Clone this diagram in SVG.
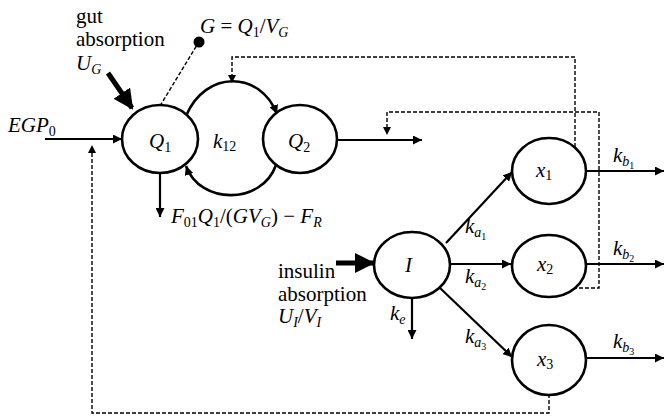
<svg xmlns="http://www.w3.org/2000/svg" width="664" height="417" viewBox="0 0 664 417">
<defs>
<marker id="ahs" viewBox="0 0 10 10" refX="10" refY="5" markerWidth="9" markerHeight="9" markerUnits="userSpaceOnUse" orient="auto"><path d="M0,0 L10,5 L0,10 z" fill="#000"/></marker>
<marker id="ahb" viewBox="0 0 10 10" refX="9" refY="5" markerWidth="4" markerHeight="4" orient="auto"><path d="M0,0 L10,5 L0,10 z" fill="#000"/></marker>
<style>
.node{fill:#fff;stroke:#000;stroke-width:2.6}
.arr{fill:none;stroke:#000;stroke-width:2.2;marker-end:url(#ahs)}
.thick{fill:none;stroke:#000;stroke-width:5;marker-end:url(#ahb)}
.dash{fill:none;stroke:#000;stroke-width:1.4;stroke-dasharray:4,2}
.m{font-family:"Liberation Serif","DejaVu Serif",serif;font-style:italic;font-size:21px;fill:#000}
.t{font-family:"Liberation Serif","DejaVu Serif",serif;font-size:21px;fill:#000}
.s{font-size:14px}
.ss{font-size:10px;font-style:normal}
.up{font-style:normal}
</style>
</defs>
<g id="connectors">
<path d="M186,116 C205,70 260,70 277,114" fill="none" stroke="#000" stroke-width="2.6" marker-end="url(#ahs)"/>
<path d="M276,165 C262,205 200,205 186,166" fill="none" stroke="#000" stroke-width="2.6" marker-end="url(#ahs)"/>
<path class="arr" d="M45,139 L122,139"/>
<path class="arr" d="M160,173 L160,217"/>
<path class="arr" d="M338,140 L422,140"/>
<path class="thick" d="M108,73 L132,108"/>
<path class="thick" d="M336,263 L373,263"/>
<path class="arr" d="M446,243 L512,172"/>
<path class="arr" d="M451,264 L511,264"/>
<path class="arr" d="M440,288 L512,357"/>
<path class="arr" d="M412,298 L412,339"/>
<path class="arr" d="M586,171 L664,171"/>
<path class="arr" d="M586,264 L664,264"/>
<path class="arr" d="M586,358 L664,358"/>
<path class="dash" d="M160,106 L197,45"/>
<circle cx="199" cy="42" r="5.5" fill="#000"/>
<path class="dash" d="M575,147 L575,57 L232,57 L232,76"/>
<path d="M228,75 L236,75 L232,83 z" fill="#000"/>
<path class="dash" d="M573,288 L599,288 L599,112 L387,112 L387,128"/>
<path d="M383,127 L391,127 L387,135 z" fill="#000"/>
<path class="dash" d="M549,394 L549,413 L92,413 L92,152"/>
<path d="M88,153 L96,153 L92,145 z" fill="#000"/>
</g>
<g id="Q1"><ellipse class="node" cx="160" cy="139" rx="38" ry="34"/><text class="m" x="149" y="148">Q<tspan class="s up" dy="4">1</tspan></text></g>
<g id="Q2"><ellipse class="node" cx="300" cy="139" rx="37" ry="34"/><text class="m" x="288" y="148">Q<tspan class="s up" dy="4">2</tspan></text></g>
<g id="I"><ellipse class="node" cx="412" cy="265" rx="38" ry="33"/><text class="m" x="405" y="272">I</text></g>
<g id="x1"><ellipse class="node" cx="549" cy="171" rx="37" ry="33"/><text class="m" x="536" y="177">x<tspan class="s up" dy="3">1</tspan></text></g>
<g id="x2"><ellipse class="node" cx="549" cy="266" rx="37" ry="31"/><text class="m" x="537" y="271">x<tspan class="s up" dy="3">2</tspan></text></g>
<g id="x3"><ellipse class="node" cx="549" cy="360" rx="37" ry="35"/><text class="m" x="537" y="366">x<tspan class="s up" dy="3">3</tspan></text></g>
<g id="labels">
<text class="m" x="213" y="148">k<tspan class="s up" dy="3">12</tspan></text>
<text class="t" x="76" y="23">gut</text>
<text class="t" x="76" y="46">absorption</text>
<text class="m" x="76" y="70">U<tspan class="s" dy="4">G</tspan></text>
<text class="m" x="200" y="33">G <tspan class="up">=</tspan> Q<tspan class="s up" dy="4">1</tspan><tspan dy="-4" class="up">/</tspan>V<tspan class="s" dy="4">G</tspan></text>
<text class="m" x="8" y="132">EGP<tspan class="s up" dy="4">0</tspan></text>
<text class="m" x="171" y="223">F<tspan class="s up" dy="4">01</tspan><tspan dy="-4">Q</tspan><tspan class="s up" dy="4">1</tspan><tspan class="up" dy="-4">/(</tspan>GV<tspan class="s" dy="4">G</tspan><tspan class="up" dy="-4">) − </tspan>F<tspan class="s" dy="4">R</tspan></text>
<text class="t" x="278" y="278">insulin</text>
<text class="t" x="278" y="301">absorption</text>
<text class="m" x="278" y="323">U<tspan class="s" dy="4">I</tspan><tspan class="up" dy="-4">/</tspan>V<tspan class="s" dy="4">I</tspan></text>
<text class="m" x="465" y="233">k<tspan class="s" dy="4">a<tspan class="ss" dy="3">1</tspan></tspan></text>
<text class="m" x="465" y="283">k<tspan class="s" dy="4">a<tspan class="ss" dy="3">2</tspan></tspan></text>
<text class="m" x="465" y="343">k<tspan class="s" dy="4">a<tspan class="ss" dy="3">3</tspan></tspan></text>
<text class="m" x="390" y="320">k<tspan class="s" dy="4">e</tspan></text>
<text class="m" x="613" y="162">k<tspan class="s" dy="4">b<tspan class="ss" dy="3">1</tspan></tspan></text>
<text class="m" x="613" y="255">k<tspan class="s" dy="4">b<tspan class="ss" dy="3">2</tspan></tspan></text>
<text class="m" x="613" y="348">k<tspan class="s" dy="4">b<tspan class="ss" dy="3">3</tspan></tspan></text>
</g>
</svg>
